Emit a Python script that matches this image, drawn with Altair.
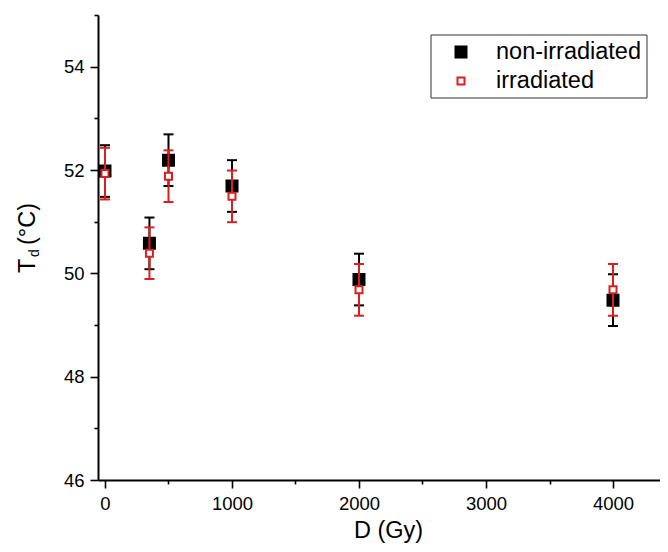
import altair as alt
import pandas as pd

# ---- data ----
doses = [0, 350, 500, 1000, 2000, 4000]
td_non = [51.98, 50.58, 52.19, 51.69, 49.88, 49.48]
err_non = [0.5, 0.5, 0.5, 0.5, 0.5, 0.5]
td_irr = [51.93, 50.39, 51.88, 51.49, 49.68, 49.68]
err_irr = [0.5, 0.5, 0.5, 0.5, 0.5, 0.5]

x_ticks = [0, 500, 1000, 1500, 2000, 2500, 3000, 3500, 4000]
y_ticks = [46, 47, 48, 49, 50, 51, 52, 53, 54, 55]
legend_labels = ["non-irradiated", "irradiated"]

FONT = "Liberation Sans"
RED = "#dc1e1e"
W, H = 562, 465

non = pd.DataFrame({"D": doses, "Td": td_non,
                    "lo": [v - e for v, e in zip(td_non, err_non)],
                    "hi": [v + e for v, e in zip(td_non, err_non)]})
irr = pd.DataFrame({"D": doses, "Td": td_irr,
                    "lo": [v - e for v, e in zip(td_irr, err_irr)],
                    "hi": [v + e for v, e in zip(td_irr, err_irr)]})

xscale = alt.Scale(domain=[-55, 4370], nice=False, zero=False)
yscale = alt.Scale(domain=[46, 55], nice=False, zero=False)

xaxis = alt.Axis(
    values=x_ticks, format="d", title="D (Gy)", titleFont=FONT, titleFontSize=23.5,
    titleFontWeight="normal", titleColor="black", titlePadding=6,
    titleX=290, titleAlign="center",
    labelFont=FONT, labelFontSize=18.5, labelColor="black", labelPadding=6,
    labelExpr="datum.value % 1000 === 0 ? datum.label : ''",
    tickSize={"condition": {"test": "datum.value % 1000 === 0", "value": 8}, "value": 4},
    tickColor="black", tickWidth=1.6, domainColor="black", domainWidth=2,
    grid=False, labelFlush=False,
)
yaxis = alt.Axis(
    values=y_ticks, format="d", title=None,
    labelFont=FONT, labelFontSize=18.5, labelColor="black", labelPadding=6,
    labelExpr="(datum.value % 2 === 0 && datum.value < 55) ? datum.label : ''",
    tickSize={"condition": {"test": "datum.value % 2 === 0 && datum.value < 55", "value": 8}, "value": 4},
    tickColor="black", tickWidth=1.6, domainColor="black", domainWidth=2,
    grid=False, labelFlush=False,
)

X = alt.X("D:Q", scale=xscale, axis=xaxis)

# black series
non_pts = alt.Chart(non).mark_point(shape="square", filled=True, size=121,
                                    color="black", stroke="black", strokeWidth=2, opacity=1).encode(
    x=X, y=alt.Y("Td:Q", scale=yscale, axis=yaxis))
non_rule = alt.Chart(non).mark_rule(color="black", strokeWidth=2).encode(
    x=X, y=alt.Y("lo:Q", scale=yscale, axis=yaxis), y2="hi:Q")
non_cap_hi = alt.Chart(non).mark_tick(orient="horizontal", size=10, thickness=2, color="black", opacity=1).encode(
    x=X, y=alt.Y("hi:Q", scale=yscale, axis=yaxis))
non_cap_lo = alt.Chart(non).mark_tick(orient="horizontal", size=10, thickness=2, color="black", opacity=1).encode(
    x=X, y=alt.Y("lo:Q", scale=yscale, axis=yaxis))

# red series
irr_rule = alt.Chart(irr).mark_rule(color=RED, strokeWidth=2).encode(
    x=X, y=alt.Y("lo:Q", scale=yscale, axis=yaxis), y2="hi:Q")
irr_cap_hi = alt.Chart(irr).mark_tick(orient="horizontal", size=10, thickness=2, color=RED, opacity=1).encode(
    x=X, y=alt.Y("hi:Q", scale=yscale, axis=yaxis))
irr_cap_lo = alt.Chart(irr).mark_tick(orient="horizontal", size=10, thickness=2, color=RED, opacity=1).encode(
    x=X, y=alt.Y("lo:Q", scale=yscale, axis=yaxis))
irr_pts = alt.Chart(irr).mark_point(shape="square", filled=False, size=49, fill="white",
                                    stroke=RED, strokeWidth=2, opacity=1, fillOpacity=1).encode(
    x=X, y=alt.Y("Td:Q", scale=yscale, axis=yaxis))

# y-axis title with subscript: T_d (°C)
one = pd.DataFrame({"k": [0]})
ytitle_T = alt.Chart(one).mark_text(text="T", font=FONT, fontSize=23.5, angle=270,
                                    align="left", baseline="alphabetic", color="black").encode(
    x=alt.value(35 - 98), y=alt.value(273 - 15))
ytitle_d = alt.Chart(one).mark_text(text="d", font=FONT, fontSize=14, angle=270,
                                    align="left", baseline="alphabetic", color="black").encode(
    x=alt.value(39 - 98), y=alt.value(257 - 15))
ytitle_C = alt.Chart(one).mark_text(text="(°C)", font=FONT, fontSize=23.5, angle=270,
                                    align="left", baseline="alphabetic", color="black").encode(
    x=alt.value(35 - 98), y=alt.value(245 - 15))

# legend
leg_box = alt.Chart(one).mark_rect(fill="white", stroke="#333333", strokeWidth=1).encode(
    x=alt.value(333), x2=alt.value(549), y=alt.value(20), y2=alt.value(83))
leg_sym1 = alt.Chart(one).mark_point(shape="square", filled=True, size=121, color="black",
                                     stroke="black", strokeWidth=2, opacity=1).encode(
    x=alt.value(363), y=alt.value(37))
leg_sym2 = alt.Chart(one).mark_point(shape="square", filled=False, size=49, fill="white",
                                     stroke=RED, strokeWidth=2, opacity=1).encode(
    x=alt.value(363), y=alt.value(66))
leg_t1 = alt.Chart(one).mark_text(text=legend_labels[0], font=FONT, fontSize=23.5, align="left",
                                  baseline="middle", color="black").encode(
    x=alt.value(398), y=alt.value(37))
leg_t2 = alt.Chart(one).mark_text(text=legend_labels[1], font=FONT, fontSize=23.5, align="left",
                                  baseline="middle", color="black").encode(
    x=alt.value(398), y=alt.value(66))

chart = alt.layer(
    non_pts, non_rule, non_cap_hi, non_cap_lo,
    irr_rule, irr_cap_hi, irr_cap_lo, irr_pts,
    ytitle_T, ytitle_d, ytitle_C,
    leg_box, leg_sym1, leg_sym2, leg_t1, leg_t2,
).properties(
    width=W, height=H,
    autosize=alt.AutoSizeParams(type="none"),
    padding={"left": 90, "top": 7, "right": 0, "bottom": 64},
    background="white",
).configure_view(stroke=None)

chart.save("out.html", embed_options={"renderer": "svg", "actions": False})
